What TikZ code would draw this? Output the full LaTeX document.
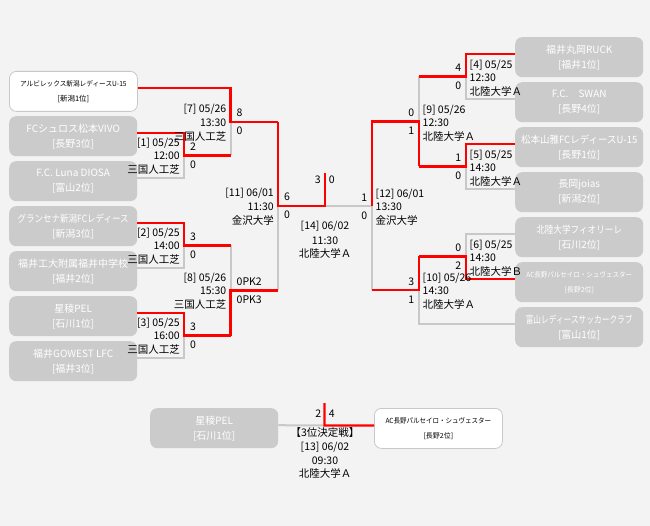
\documentclass[tikz,border=0pt]{standalone}
\usepackage{fontspec}
\setmainfont{Noto Sans CJK JP}
\usepackage{graphicx}
\definecolor{bgc}{HTML}{F3F3F3}
\definecolor{boxgray}{HTML}{CBCBCB}
\definecolor{linegray}{HTML}{C8C8C8}
\definecolor{winred}{HTML}{FF0000}
\newcommand\sqz[2]{\scalebox{#1}[1]{#2}}
\newcommand\infoL[6]{%
  \node[info,anchor=east] (#1a) at (#2-4,#3-13) {#4};
  \node[info,anchor=east] (#1b) at (#2-4,#3+0.5) {#5};
  \node[info,anchor=east] (#1c) at (#2-4,#3+14.5) {#6};}
\newcommand\infoR[6]{%
  \node[info,anchor=west] (#1a) at (#2+3.5,#3-12) {#4};
  \node[info,anchor=west] (#1b) at (#2+3.5,#3+1) {#5};
  \node[info,anchor=west] (#1c) at (#2+3.5,#3+15) {#6};}
\newcommand\scoreL[5]{%
  \node[info,anchor=west] (#1s) at (#2+6,#3-9) {#4};
  \node[info,anchor=west] (#1t) at (#2+6,#3+9) {#5};}
\newcommand\scoreR[5]{%
  \node[info,anchor=east] (#1s) at (#2-4.5,#3-8.5) {#4};
  \node[info,anchor=east] (#1t) at (#2-4.5,#3+9.5) {#5};}
\begin{document}
\begin{tikzpicture}[x=1pt,y=-1pt,
  team/.style={rounded corners=7pt, minimum width=128pt, minimum height=40pt,
    inner sep=0pt, fill=boxgray, text=white, align=center, anchor=north west,
    font=\fontsize{10}{15}\selectfont},
  teamw/.style={team, fill=white, draw=linegray, line width=0.8pt, text=black,
    font=\fontsize{7}{15}\selectfont},
  win/.style={draw=winred, line width=2.2pt},
  lose/.style={draw=linegray, line width=2pt},
  info/.style={font=\fontsize{10.5}{13}\selectfont, inner sep=0pt,
    text height=9.2pt, text depth=1.3pt, text=black}]
\useasboundingbox (0,0) rectangle (650,526);
\fill[bgc] (0,0) rectangle (650,526);

% ---- left teams
\node[teamw] (L1) at (9,71) {\sqz{0.95}{アルビレックス新潟レディースU-15}\\{\fontsize{7.5}{15}\selectfont [新潟1位]}};
\node[team] (L2) at (9,116) {FCシュロス松本VIVO\\{[長野3位]}};
\node[team] (L3) at (9,161) {F.C. Luna DIOSA\\{[富山2位]}};
\node[team] (L4) at (9,206) {\sqz{0.85}{グランセナ新潟FCレディース}\\{[新潟3位]}};
\node[team] (L5) at (9,251) {福井工大附属福井中学校\\{[福井2位]}};
\node[team] (L6) at (9,296) {星稜PEL\\{[石川1位]}};
\node[team] (L7) at (9,341) {福井GOWEST LFC\\{[福井3位]}};

% ---- right teams
\node[team] (R1) at (515,37) {福井丸岡RUCK\\{[福井1位]}};
\node[team] (R2) at (515,82) {F.C.　SWAN\\{[長野4位]}};
\node[team] (R3) at (515,127) {\sqz{0.95}{松本山雅FCレディースU-15}\\{[長野1位]}};
\node[team] (R4) at (515,172) {長岡joias\\{[新潟2位]}};
\node[team] (R5) at (515,217) {\sqz{0.86}{北陸大学フィオリーレ}\\{[石川2位]}};
\node[team, font=\fontsize{7}{15}\selectfont] (R6) at (515,262) {\sqz{0.93}{AC長野パルセイロ・シュヴェスター}\\{[長野2位]}};
\node[team] (R7) at (515,307) {\sqz{0.77}{富山レディースサッカークラブ}\\{[富山1位]}};

% ---- third place teams
\node[team] (T1) at (150,408) {星稜PEL\\{[石川1位]}};
\node[teamw] (T2) at (374,408) {\sqz{0.93}{AC長野パルセイロ・シュヴェスター}\\{[長野2位]}};

% ---- bracket points
\coordinate (m1) at (184,155.5);
\coordinate (m2) at (184,245.5);
\coordinate (m3) at (184,335.5);
\coordinate (m7) at (230.5,122);
\coordinate (m8) at (230.5,290.5);
\coordinate (m11) at (278,206);
\coordinate (m4) at (466,76.5);
\coordinate (m5) at (466,166.5);
\coordinate (m6) at (466,256.5);
\coordinate (m9) at (419,121.5);
\coordinate (m10) at (419,290);
\coordinate (m12) at (372,206);
\coordinate (fin) at (325,206);
\coordinate (fintop) at (325,173);
\coordinate (thr) at (324.5,425.5);
\coordinate (thrtop) at (324.5,403);

% ---- losing (gray) lines
\draw[lose] (m1) |- ([yshift=3pt]L3.east);
\draw[lose] (m7) -- (m1 -| m7);
\draw[lose] (m2) |- ([yshift=3pt]L5.east);
\draw[lose] (m3) |- ([yshift=3pt]L7.east);
\draw[lose] (m2 -| m8) -- (m8);
\draw[lose] (m11) -- (m8 -| m11);
\draw[lose] (m11) -- (m12);
\draw[lose] (m4) |- ([yshift=3pt]R2.west);
\draw[lose] (m5) |- ([yshift=3pt]R4.west);
\draw[lose] (m4 -| m9) -- (m9);
\draw[lose] (m6) |- ([yshift=3pt]R5.west);
\draw[lose] (m10) |- ([yshift=3pt]R7.west);
\draw[lose] (m12) -- (m10 -| m12);
\draw[lose] ([yshift=3pt]T1.east) -- (thr);

% ---- winning (red) lines
\draw[win] ([yshift=3pt]L2.east) -| (m1) -- (m1 -| m7);
\draw[win] ([yshift=3pt]L1.east) -| (m7) -- (m7 -| m11);
\draw[win] ([yshift=3pt]L4.east) -| (m2) -- (m2 -| m8);
\draw[win] ([yshift=3pt]L6.east) -| (m3) -- (m3 -| m8);
\draw[win] (m3 -| m8) -- (m8) -- (m8 -| m11);
\draw[win] (m7 -| m11) -- (m11) -- (fin) -- (fintop);
\draw[win] ([yshift=3pt]R1.west) -| (m4) -- (m4 -| m9);
\draw[win] ([yshift=3pt]R3.west) -| (m5) -- (m5 -| m9);
\draw[win] (m5 -| m9) -- (m9) -- (m9 -| m12) -- (m12);
\draw[win] ([yshift=3pt]R6.west) -| (m6) -- (m6 -| m10);
\draw[win] (m6 -| m10) -- (m10) -- (m10 -| m12);
\draw[win] ([yshift=3pt]T2.west) -- (thr) -- (thrtop);

% ---- match labels, left
\infoL{k1}{184}{155.5}{[1] 05/25}{12:00}{三国人工芝}
\infoL{k2}{184}{245.5}{[2] 05/25}{14:00}{三国人工芝}
\infoL{k3}{184}{335.5}{[3] 05/25}{16:00}{三国人工芝}
\infoL{k7}{230.5}{122}{[7] 05/26}{13:30}{三国人工芝}
\infoL{k8}{230.5}{290.5}{[8] 05/26}{15:30}{三国人工芝}
\infoL{k11}{278}{206}{[11] 06/01}{11:30}{金沢大学}
\scoreL{k1}{184}{155.5}{2}{0}
\scoreL{k2}{184}{245.5}{3}{0}
\scoreL{k3}{184}{335.5}{3}{0}
\scoreL{k7}{230.5}{122}{8}{0}
\scoreL{k8}{230.5}{290.5}{0PK2}{0PK3}
\scoreL{k11}{278}{206}{6}{0}

% ---- match labels, right
\infoR{k4}{466}{76.5}{[4] 05/25}{12:30}{北陸大学Ａ}
\infoR{k5}{466}{166.5}{[5] 05/25}{14:30}{北陸大学Ａ}
\infoR{k6}{466}{256.5}{[6] 05/25}{14:30}{北陸大学Ｂ}
\infoR{k9}{419}{121.5}{[9] 05/26}{12:30}{北陸大学Ａ}
\infoR{k10}{419}{290}{[10] 05/26}{14:30}{北陸大学Ａ}
\infoR{k12}{372}{206}{[12] 06/01}{13:30}{金沢大学}
\scoreR{k4}{466}{76.5}{4}{0}
\scoreR{k5}{466}{166.5}{1}{0}
\scoreR{k6}{466}{256.5}{0}{2}
\scoreR{k9}{419}{121.5}{0}{1}
\scoreR{k10}{419}{290}{3}{1}
\scoreR{k12}{372}{206}{1}{0}

% ---- final
\node[info] (fs1) at (317.7,180) {3};
\node[info] (fs2) at (331.7,180) {0};
\node[info] (f14a) at (325,226) {[14] 06/02};
\node[info] (f14b) at (325,240.5) {11:30};
\node[info] (f14c) at (325,254) {北陸大学Ａ};

% ---- third place
\node[info] (ts1) at (318.3,413.3) {2};
\node[info] (ts2) at (331.7,413.3) {4};
\node[info] (t13a) at (325,433) {【3位決定戦】};
\node[info] (t13b) at (325,447) {[13] 06/02};
\node[info] (t13c) at (325,460.5) {09:30};
\node[info] (t13d) at (325,474) {北陸大学Ａ};
\end{tikzpicture}
\end{document}
